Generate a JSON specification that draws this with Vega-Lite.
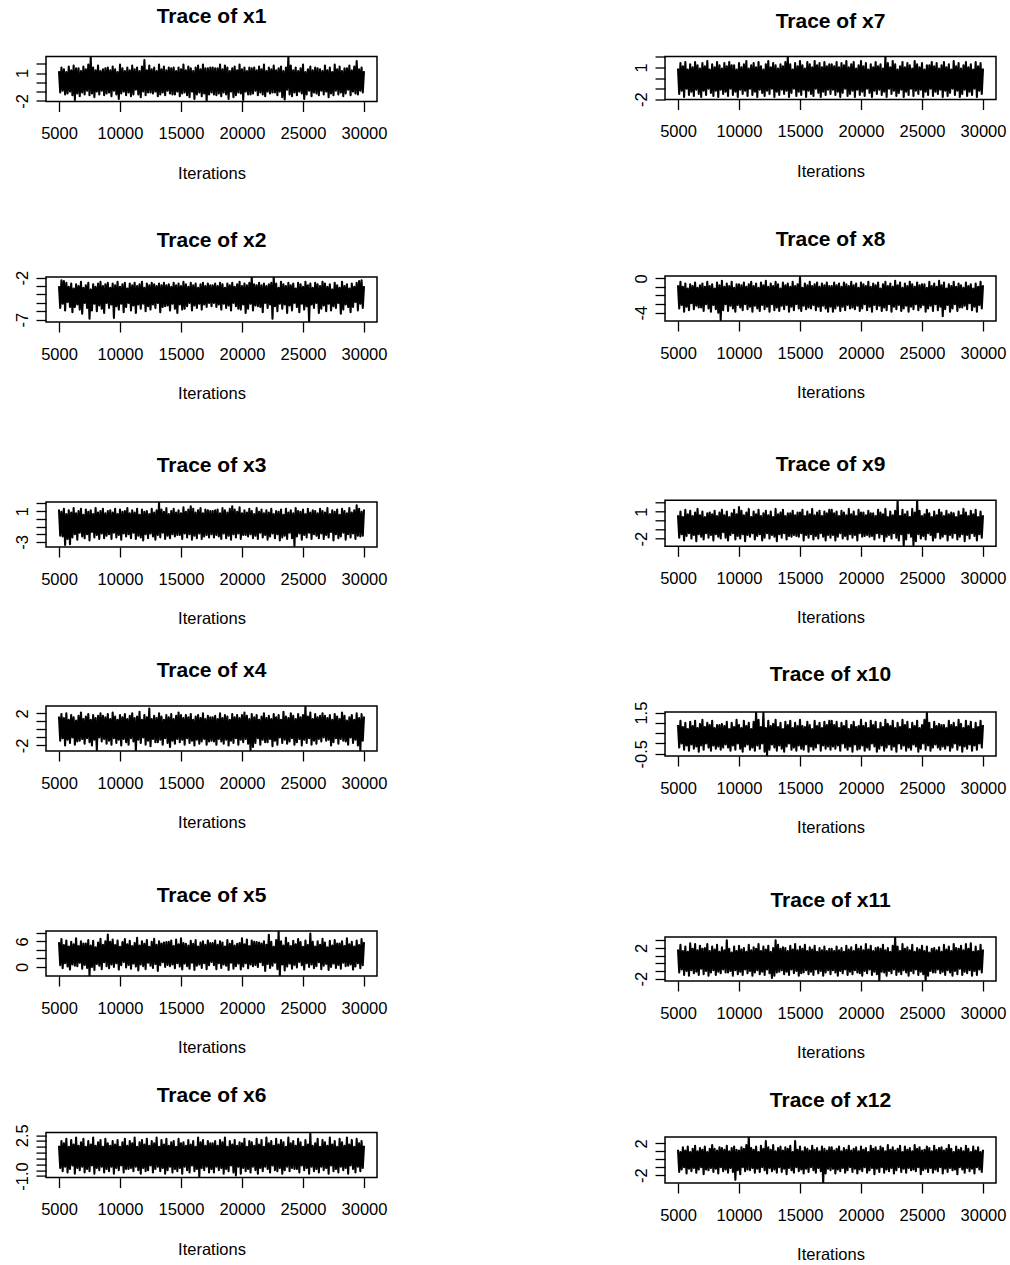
{
  "$schema": "https://vega.github.io/schema/vega-lite/v6.json",
  "background": "white",
  "padding": {"left": 13, "top": 4.5, "right": 5, "bottom": 5},
  "data": {"values": [
{"iter":5000,"x1":1.2,"x2":-3.0,"x3":1.2,"x4":1.6,"x5":5.8,"x6":1.6,"x7":0.9,"x8":-0.8,"x9":0.6,"x10":0.9,"x11":1.8,"x12":1.2},
{"iter":5100,"x1":-1.1,"x2":-5.6,"x3":-2.2,"x4":-1.4,"x5":0.4,"x6":-0.3,"x7":-1.5,"x8":-3.5,"x9":-1.9,"x10":-0.2,"x11":-1.2,"x12":-1.6},
{"iter":5200,"x1":1.6,"x2":-2.3,"x3":0.9,"x4":1.9,"x5":6.5,"x6":2.0,"x7":1.4,"x8":-0.4,"x9":1.0,"x10":1.1,"x11":2.4,"x12":0.9},
{"iter":5300,"x1":-0.9,"x2":-5.1,"x3":-2.3,"x4":-1.1,"x5":-0.3,"x6":-0.6,"x7":-1.2,"x8":-3.1,"x9":-1.5,"x10":0.0,"x11":-0.8,"x12":-1.3},
{"iter":5400,"x1":1.4,"x2":-2.4,"x3":1.3,"x4":1.4,"x5":5.1,"x6":1.8,"x7":1.1,"x8":-1.0,"x9":0.4,"x10":0.8,"x11":1.6,"x12":1.5},
{"iter":5500,"x1":-1.3,"x2":-5.9,"x3":-3.4,"x4":-2.0,"x5":0.9,"x6":-0.2,"x7":-1.8,"x8":-3.9,"x9":-2.2,"x10":-0.3,"x11":-1.5,"x12":-1.0},
{"iter":5600,"x1":1.1,"x2":-2.6,"x3":0.6,"x4":2.0,"x5":6.2,"x6":2.2,"x7":1.5,"x8":-0.6,"x9":1.2,"x10":1.0,"x11":2.2,"x12":1.1},
{"iter":5700,"x1":-1.2,"x2":-4.9,"x3":-2.6,"x4":-1.3,"x5":0.1,"x6":-0.7,"x7":-1.0,"x8":-3.3,"x9":-1.7,"x10":-0.1,"x11":-1.0,"x12":-1.8},
{"iter":5800,"x1":1.7,"x2":-3.1,"x3":1.1,"x4":1.2,"x5":4.8,"x6":1.5,"x7":0.8,"x8":-1.2,"x9":0.7,"x10":0.7,"x11":1.5,"x12":1.6},
{"iter":5900,"x1":-1.0,"x2":-5.5,"x3":-3.3,"x4":-1.7,"x5":-0.6,"x6":-0.4,"x7":-1.6,"x8":-3.7,"x9":-1.4,"x10":-0.35,"x11":-1.6,"x12":-1.2},
{"iter":6000,"x1":1.3,"x2":-2.7,"x3":0.8,"x4":1.8,"x5":5.9,"x6":2.1,"x7":1.3,"x8":-0.7,"x9":1.1,"x10":1.05,"x11":2.6,"x12":0.9},
{"iter":6100,"x1":-1.4,"x2":-6.1,"x3":-2.4,"x4":-1.0,"x5":0.6,"x6":-0.1,"x7":-1.3,"x8":-2.9,"x9":-2.0,"x10":-0.05,"x11":-0.9,"x12":-1.5},
{"iter":6200,"x1":1.8,"x2":-3.3,"x3":1.4,"x4":1.5,"x5":5.3,"x6":1.7,"x7":1.0,"x8":-0.9,"x9":0.5,"x10":0.85,"x11":1.9,"x12":1.3},
{"iter":6300,"x1":-1.9,"x2":-5.5,"x3":-2.0,"x4":-1.9,"x5":0.3,"x6":-0.8,"x7":-1.7,"x8":-3.6,"x9":-1.6,"x10":-0.25,"x11":-1.3,"x12":-1.1},
{"iter":6400,"x1":1.5,"x2":-2.8,"x3":0.7,"x4":1.1,"x5":6.7,"x6":2.3,"x7":1.5,"x8":-0.5,"x9":0.9,"x10":1.1,"x11":2.5,"x12":1.7},
{"iter":6500,"x1":-1.2,"x2":-5.2,"x3":-2.7,"x4":-1.5,"x5":0.2,"x6":-0.3,"x7":-1.1,"x8":-3.2,"x9":-2.3,"x10":-0.15,"x11":-1.1,"x12":-1.7},
{"iter":6600,"x1":1.5,"x2":-3.0,"x3":1.0,"x4":1.7,"x5":4.9,"x6":1.6,"x7":1.2,"x8":-1.1,"x9":1.3,"x10":0.75,"x11":1.7,"x12":1.0},
{"iter":6700,"x1":-1.5,"x2":-5.8,"x3":-1.8,"x4":-1.4,"x5":1.0,"x6":-0.5,"x7":-1.5,"x8":-3.4,"x9":-1.5,"x10":-0.4,"x11":-1.5,"x12":-1.3},
{"iter":6800,"x1":1.2,"x2":-2.5,"x3":1.3,"x4":2.1,"x5":6.0,"x6":1.9,"x7":0.9,"x8":-0.8,"x9":0.6,"x10":0.95,"x11":2.3,"x12":1.4},
{"iter":6900,"x1":-1.1,"x2":-6.3,"x3":-2.3,"x4":-1.2,"x5":-0.4,"x6":-0.2,"x7":-1.8,"x8":-3.4,"x9":-1.8,"x10":-0.1,"x11":-0.7,"x12":-1.0},
{"iter":7000,"x1":1.7,"x2":-3.2,"x3":0.5,"x4":1.3,"x5":5.5,"x6":2.2,"x7":1.4,"x8":-0.6,"x9":1.0,"x10":1.15,"x11":1.9,"x12":1.2},
{"iter":7100,"x1":-1.3,"x2":-5.0,"x3":-2.5,"x4":-1.8,"x5":0.5,"x6":-0.7,"x7":-1.2,"x8":-3.8,"x9":-2.1,"x10":-0.3,"x11":-1.4,"x12":-1.9},
{"iter":7200,"x1":1.4,"x2":-2.9,"x3":1.2,"x4":1.6,"x5":5.5,"x6":1.5,"x7":1.1,"x8":-1.0,"x9":0.4,"x10":0.8,"x11":2.0,"x12":1.6},
{"iter":7300,"x1":-0.9,"x2":-5.6,"x3":-2.0,"x4":-1.1,"x5":-0.2,"x6":-0.4,"x7":-1.6,"x8":-3.0,"x9":-1.4,"x10":0.0,"x11":-1.0,"x12":-1.3},
{"iter":7400,"x1":1.9,"x2":-2.6,"x3":0.9,"x4":1.9,"x5":6.3,"x6":2.0,"x7":1.6,"x8":-0.4,"x9":0.8,"x10":1.0,"x11":2.5,"x12":0.9},
{"iter":7500,"x1":-1.4,"x2":-6.9,"x3":-2.8,"x4":-1.6,"x5":-2.0,"x6":-0.6,"x7":-1.0,"x8":-3.5,"x9":-1.9,"x10":-0.2,"x11":-1.6,"x12":-1.4},
{"iter":7600,"x1":2.7,"x2":-3.4,"x3":1.1,"x4":1.2,"x5":5.0,"x6":1.7,"x7":0.8,"x8":-0.9,"x9":0.9,"x10":0.9,"x11":1.6,"x12":1.3},
{"iter":7700,"x1":-1.2,"x2":-5.9,"x3":-1.7,"x4":-2.0,"x5":0.0,"x6":-0.1,"x7":-1.4,"x8":-3.9,"x9":-1.6,"x10":-0.35,"x11":-1.2,"x12":-1.1},
{"iter":7800,"x1":1.6,"x2":-2.8,"x3":0.6,"x4":1.8,"x5":6.1,"x6":2.3,"x7":1.3,"x8":-0.7,"x9":0.7,"x10":1.1,"x11":2.2,"x12":1.8},
{"iter":7900,"x1":-1.6,"x2":-5.1,"x3":-2.4,"x4":-1.3,"x5":-0.7,"x6":-0.8,"x7":-1.7,"x8":-3.1,"x9":-2.2,"x10":-0.1,"x11":-0.9,"x12":-1.6},
{"iter":8000,"x1":1.3,"x2":-3.1,"x3":1.4,"x4":1.4,"x5":4.6,"x6":1.6,"x7":1.0,"x8":-1.2,"x9":1.1,"x10":0.75,"x11":1.8,"x12":1.3},
{"iter":8100,"x1":-1.0,"x2":-6.0,"x3":-2.1,"x4":-2.6,"x5":0.7,"x6":-0.3,"x7":-1.2,"x8":-3.6,"x9":-1.5,"x10":-0.25,"x11":-1.5,"x12":-1.2},
{"iter":8200,"x1":1.8,"x2":-2.7,"x3":0.8,"x4":1.7,"x5":5.7,"x6":1.9,"x7":1.5,"x8":-0.5,"x9":0.5,"x10":0.9,"x11":2.4,"x12":1.1},
{"iter":8300,"x1":-1.3,"x2":-5.3,"x3":-2.6,"x4":-1.0,"x5":0.3,"x6":-0.5,"x7":-1.8,"x8":-4.0,"x9":-1.8,"x10":-0.15,"x11":-1.1,"x12":-1.8},
{"iter":8400,"x1":1.2,"x2":-2.5,"x3":1.0,"x4":2.0,"x5":6.6,"x6":2.1,"x7":1.2,"x8":-0.8,"x9":0.9,"x10":0.9,"x11":1.5,"x12":1.5},
{"iter":8500,"x1":-0.9,"x2":-5.7,"x3":-1.9,"x4":-1.5,"x5":-0.5,"x6":-0.2,"x7":-1.1,"x8":-4.85,"x9":-2.0,"x10":-0.3,"x11":-1.3,"x12":-1.0},
{"iter":8600,"x1":1.4,"x2":-3.0,"x3":1.3,"x4":1.7,"x5":5.2,"x6":1.5,"x7":0.9,"x8":-0.3,"x9":1.2,"x10":0.95,"x11":2.1,"x12":1.4},
{"iter":8700,"x1":-1.4,"x2":-6.2,"x3":-2.5,"x4":-1.2,"x5":1.1,"x6":-0.7,"x7":-1.5,"x8":-3.7,"x9":-1.3,"x10":-0.2,"x11":-0.8,"x12":-1.5},
{"iter":8800,"x1":1.5,"x2":-2.8,"x3":0.7,"x4":1.5,"x5":6.0,"x6":2.2,"x7":1.4,"x8":-1.0,"x9":0.6,"x10":0.85,"x11":1.7,"x12":1.2},
{"iter":8900,"x1":-1.2,"x2":-5.0,"x3":-2.2,"x4":-1.8,"x5":0.2,"x6":-0.4,"x7":-1.3,"x8":-3.0,"x9":-1.9,"x10":-0.05,"x11":-1.2,"x12":-1.3},
{"iter":9000,"x1":1.6,"x2":-2.6,"x3":1.0,"x4":1.9,"x5":7.6,"x6":1.8,"x7":1.1,"x8":-0.6,"x9":1.0,"x10":1.05,"x11":3.0,"x12":1.7},
{"iter":9100,"x1":-1.1,"x2":-5.6,"x3":-2.0,"x4":-1.4,"x5":-0.3,"x6":-0.6,"x7":-1.7,"x8":-3.8,"x9":-2.2,"x10":-0.2,"x11":-1.2,"x12":-1.7},
{"iter":9200,"x1":1.3,"x2":-3.2,"x3":1.1,"x4":1.3,"x5":5.9,"x6":1.6,"x7":1.5,"x8":-0.9,"x9":0.4,"x10":0.7,"x11":1.9,"x12":1.0},
{"iter":9300,"x1":-1.5,"x2":-5.2,"x3":-2.6,"x4":-1.9,"x5":0.6,"x6":-0.2,"x7":-1.0,"x8":-3.2,"x9":-1.6,"x10":-0.35,"x11":-1.0,"x12":-1.1},
{"iter":9400,"x1":1.7,"x2":-2.7,"x3":0.8,"x4":2.1,"x5":6.4,"x6":2.0,"x7":1.2,"x8":-0.4,"x9":0.8,"x10":1.0,"x11":1.4,"x12":1.4},
{"iter":9500,"x1":-0.9,"x2":-6.8,"x3":-1.8,"x4":-1.1,"x5":0.0,"x6":-0.8,"x7":-1.6,"x8":-3.5,"x9":-1.4,"x10":-0.1,"x11":-1.6,"x12":-1.6},
{"iter":9600,"x1":1.4,"x2":-2.9,"x3":1.3,"x4":1.6,"x5":5.1,"x6":1.7,"x7":1.2,"x8":-1.1,"x9":1.2,"x10":0.8,"x11":2.2,"x12":1.6},
{"iter":9700,"x1":-1.3,"x2":-5.4,"x3":-2.4,"x4":-1.7,"x5":0.9,"x6":-0.3,"x7":-1.3,"x8":-3.9,"x9":-2.1,"x10":-0.3,"x11":-0.9,"x12":-2.6},
{"iter":9800,"x1":1.1,"x2":-2.5,"x3":0.6,"x4":1.2,"x5":6.2,"x6":2.1,"x7":0.8,"x8":-0.7,"x9":0.7,"x10":1.15,"x11":1.6,"x12":1.2},
{"iter":9900,"x1":-1.8,"x2":-5.8,"x3":-2.1,"x4":-1.3,"x5":-0.6,"x6":-0.5,"x7":-1.8,"x8":-3.1,"x9":-1.7,"x10":0.0,"x11":-1.4,"x12":-1.4},
{"iter":10000,"x1":1.9,"x2":-3.1,"x3":1.2,"x4":1.8,"x5":4.7,"x6":1.5,"x7":1.4,"x8":-0.7,"x9":1.5,"x10":0.9,"x11":2.3,"x12":1.1},
{"iter":10100,"x1":-1.2,"x2":-5.1,"x3":-2.7,"x4":-2.0,"x5":0.4,"x6":-0.1,"x7":-1.1,"x8":-3.4,"x9":-2.0,"x10":-0.25,"x11":-1.1,"x12":-1.9},
{"iter":10200,"x1":1.5,"x2":-2.8,"x3":0.9,"x4":1.5,"x5":5.8,"x6":1.9,"x7":1.0,"x8":-0.8,"x9":1.1,"x10":0.75,"x11":1.8,"x12":1.5},
{"iter":10300,"x1":-1.0,"x2":-6.1,"x3":-1.9,"x4":-1.2,"x5":1.2,"x6":-0.7,"x7":-1.5,"x8":-3.7,"x9":-1.5,"x10":-0.4,"x11":-1.5,"x12":-1.0},
{"iter":10400,"x1":1.2,"x2":-2.6,"x3":1.0,"x4":1.9,"x5":6.5,"x6":2.2,"x7":1.3,"x8":-0.5,"x9":0.6,"x10":1.1,"x11":2.0,"x12":1.3},
{"iter":10500,"x1":-1.4,"x2":-5.5,"x3":-2.3,"x4":-1.6,"x5":-0.1,"x6":-0.4,"x7":-1.2,"x8":-3.0,"x9":-2.3,"x10":-0.15,"x11":-0.8,"x12":-1.5},
{"iter":10600,"x1":1.6,"x2":-3.3,"x3":1.4,"x4":1.3,"x5":5.3,"x6":1.6,"x7":1.6,"x8":-1.0,"x9":0.9,"x10":0.85,"x11":1.5,"x12":1.8},
{"iter":10700,"x1":-1.1,"x2":-5.0,"x3":-2.0,"x4":-1.9,"x5":0.5,"x6":-0.4,"x7":-1.7,"x8":-3.6,"x9":-1.6,"x10":-0.05,"x11":-1.3,"x12":-1.3},
{"iter":10800,"x1":1.3,"x2":-2.7,"x3":0.7,"x4":1.7,"x5":6.1,"x6":2.0,"x7":0.9,"x8":-0.7,"x9":1.3,"x10":1.0,"x11":2.4,"x12":2.75},
{"iter":10900,"x1":-1.5,"x2":-5.9,"x3":-2.5,"x4":-1.1,"x5":-0.4,"x6":-0.3,"x7":-1.0,"x8":-3.3,"x9":-1.8,"x10":-0.3,"x11":-1.0,"x12":-1.4},
{"iter":11000,"x1":1.8,"x2":-2.9,"x3":1.1,"x4":2.0,"x5":4.9,"x6":1.8,"x7":1.2,"x8":-0.4,"x9":0.4,"x10":0.7,"x11":1.7,"x12":1.4},
{"iter":11100,"x1":-1.3,"x2":-5.3,"x3":-1.8,"x4":-1.5,"x5":0.8,"x6":-0.6,"x7":-1.6,"x8":-3.9,"x9":-1.4,"x10":-0.2,"x11":-1.6,"x12":-1.1},
{"iter":11200,"x1":1.4,"x2":-2.6,"x3":0.8,"x4":1.4,"x5":5.6,"x6":2.3,"x7":1.4,"x8":-0.9,"x9":1.0,"x10":1.05,"x11":2.1,"x12":1.2},
{"iter":11300,"x1":-0.8,"x2":-6.2,"x3":-2.6,"x4":-2.6,"x5":0.1,"x6":-0.2,"x7":-1.3,"x8":-3.2,"x9":-2.1,"x10":-0.35,"x11":-1.2,"x12":-1.7},
{"iter":11400,"x1":1.6,"x2":-3.0,"x3":1.3,"x4":1.6,"x5":6.8,"x6":1.5,"x7":1.0,"x8":-0.6,"x9":0.7,"x10":1.5,"x11":1.9,"x12":1.6},
{"iter":11500,"x1":-1.3,"x2":-5.2,"x3":-2.2,"x4":-1.3,"x5":-0.8,"x6":-0.5,"x7":-1.8,"x8":-3.5,"x9":-1.7,"x10":-0.1,"x11":-0.9,"x12":-1.2},
{"iter":11600,"x1":1.2,"x2":-2.8,"x3":0.5,"x4":2.2,"x5":5.0,"x6":1.9,"x7":1.5,"x8":-1.1,"x9":1.2,"x10":1.15,"x11":2.5,"x12":0.9},
{"iter":11700,"x1":-1.6,"x2":-5.7,"x3":-2.4,"x4":-1.7,"x5":0.6,"x6":-0.8,"x7":-1.1,"x8":-3.8,"x9":-1.5,"x10":-0.25,"x11":-1.4,"x12":-1.6},
{"iter":11800,"x1":1.7,"x2":-2.5,"x3":1.2,"x4":1.2,"x5":6.0,"x6":2.1,"x7":1.1,"x8":-0.5,"x9":0.5,"x10":0.8,"x11":1.6,"x12":1.7},
{"iter":11900,"x1":-1.0,"x2":-5.1,"x3":-2.8,"x4":-1.0,"x5":0.2,"x6":-0.3,"x7":-1.4,"x8":-3.1,"x9":-2.2,"x10":0.0,"x11":-1.1,"x12":-1.0},
{"iter":12000,"x1":2.4,"x2":-3.2,"x3":0.9,"x4":1.8,"x5":5.4,"x6":1.7,"x7":0.8,"x8":-0.8,"x9":0.8,"x10":1.5,"x11":2.2,"x12":1.3},
{"iter":12100,"x1":-1.4,"x2":-6.0,"x3":-2.0,"x4":-1.9,"x5":-0.5,"x6":-0.6,"x7":-1.7,"x8":-3.6,"x9":-1.9,"x10":-0.4,"x11":-1.5,"x12":-1.4},
{"iter":12200,"x1":1.3,"x2":-2.7,"x3":1.0,"x4":1.5,"x5":6.3,"x6":2.2,"x7":1.3,"x8":-0.3,"x9":1.1,"x10":0.75,"x11":1.8,"x12":2.3},
{"iter":12300,"x1":-1.1,"x2":-5.4,"x3":-2.5,"x4":-1.4,"x5":1.0,"x6":-0.5,"x7":-1.2,"x8":-3.3,"x9":-1.4,"x10":-0.58,"x11":-0.8,"x12":-1.8},
{"iter":12400,"x1":1.8,"x2":-2.9,"x3":0.6,"x4":2.6,"x5":4.7,"x6":1.6,"x7":1.6,"x8":-1.0,"x9":0.6,"x10":1.1,"x11":2.3,"x12":1.5},
{"iter":12500,"x1":-1.1,"x2":-5.8,"x3":-1.9,"x4":-2.1,"x5":0.3,"x6":-0.1,"x7":-1.5,"x8":-3.9,"x9":-2.0,"x10":-0.3,"x11":-1.3,"x12":-1.1},
{"iter":12600,"x1":1.4,"x2":-2.6,"x3":1.3,"x4":1.3,"x5":5.9,"x6":2.0,"x7":1.0,"x8":-0.6,"x9":1.0,"x10":0.85,"x11":1.5,"x12":1.2},
{"iter":12700,"x1":-1.2,"x2":-5.2,"x3":-2.3,"x4":-1.2,"x5":-0.2,"x6":-0.7,"x7":-1.0,"x8":-3.0,"x9":-1.6,"x10":-0.05,"x11":-1.9,"x12":-1.5},
{"iter":12800,"x1":1.6,"x2":-2.8,"x3":0.8,"x4":1.7,"x5":6.6,"x6":1.8,"x7":1.4,"x8":-0.9,"x9":0.4,"x10":0.95,"x11":2.0,"x12":1.8},
{"iter":12900,"x1":-1.0,"x2":-5.6,"x3":-2.7,"x4":-1.6,"x5":0.7,"x6":-0.4,"x7":-1.8,"x8":-3.7,"x9":-1.8,"x10":-0.2,"x11":-1.6,"x12":-1.3},
{"iter":13000,"x1":1.2,"x2":-3.0,"x3":1.1,"x4":1.4,"x5":5.2,"x6":2.3,"x7":1.2,"x8":-0.4,"x9":1.3,"x10":1.15,"x11":3.0,"x12":1.0},
{"iter":13100,"x1":-1.5,"x2":-5.0,"x3":-2.1,"x4":-1.6,"x5":-0.9,"x6":-0.2,"x7":-1.3,"x8":-3.4,"x9":-2.3,"x10":-0.35,"x11":-1.2,"x12":-1.7},
{"iter":13200,"x1":1.9,"x2":-2.7,"x3":2.1,"x4":2.0,"x5":6.0,"x6":1.5,"x7":0.9,"x8":-0.7,"x9":0.7,"x10":0.8,"x11":2.4,"x12":1.4},
{"iter":13300,"x1":-1.3,"x2":-6.1,"x3":-2.4,"x4":-1.3,"x5":0.4,"x6":-0.6,"x7":-1.6,"x8":-3.8,"x9":-1.5,"x10":-0.1,"x11":-1.1,"x12":-1.0},
{"iter":13400,"x1":1.4,"x2":-2.9,"x3":1.2,"x4":1.6,"x5":5.5,"x6":2.1,"x7":1.3,"x8":-1.2,"x9":0.9,"x10":1.0,"x11":1.9,"x12":1.6},
{"iter":13500,"x1":-1.1,"x2":-5.5,"x3":-1.8,"x4":-1.9,"x5":1.1,"x6":-0.3,"x7":-1.1,"x8":-3.2,"x9":-1.9,"x10":-0.25,"x11":-0.9,"x12":-1.6},
{"iter":13600,"x1":1.7,"x2":-2.6,"x3":0.9,"x4":1.2,"x5":5.7,"x6":1.7,"x7":1.1,"x8":-0.5,"x9":1.2,"x10":0.7,"x11":2.1,"x12":1.1},
{"iter":13700,"x1":-1.4,"x2":-5.4,"x3":-2.6,"x4":-1.1,"x5":0.0,"x6":-0.8,"x7":-1.5,"x8":-3.6,"x9":-1.4,"x10":-0.4,"x11":-1.4,"x12":-1.2},
{"iter":13800,"x1":1.3,"x2":-2.9,"x3":1.4,"x4":1.8,"x5":5.8,"x6":2.2,"x7":1.5,"x8":-0.8,"x9":0.5,"x10":1.05,"x11":2.0,"x12":1.5},
{"iter":13900,"x1":-0.9,"x2":-5.3,"x3":-2.2,"x4":-1.7,"x5":0.5,"x6":-0.5,"x7":-1.2,"x8":-3.1,"x9":-2.1,"x10":-0.15,"x11":-1.1,"x12":-1.9},
{"iter":14000,"x1":1.6,"x2":-2.8,"x3":0.6,"x4":1.5,"x5":5.9,"x6":1.6,"x7":1.95,"x8":-0.6,"x9":0.8,"x10":0.9,"x11":1.6,"x12":1.3},
{"iter":14100,"x1":-1.2,"x2":-5.9,"x3":-2.5,"x4":-2.2,"x5":0.2,"x6":-0.2,"x7":-1.8,"x8":-3.9,"x9":-1.7,"x10":0.0,"x11":-1.5,"x12":-1.1},
{"iter":14200,"x1":1.5,"x2":-3.1,"x3":1.0,"x4":1.9,"x5":6.2,"x6":1.9,"x7":1.3,"x8":-1.0,"x9":0.8,"x10":1.1,"x11":2.3,"x12":1.7},
{"iter":14300,"x1":-1.3,"x2":-5.1,"x3":-2.0,"x4":-1.4,"x5":0.6,"x6":-0.7,"x7":-1.4,"x8":-3.3,"x9":-1.8,"x10":-0.3,"x11":-0.8,"x12":-1.4},
{"iter":14400,"x1":1.6,"x2":-2.6,"x3":1.3,"x4":1.3,"x5":4.9,"x6":2.0,"x7":0.8,"x8":-0.4,"x9":1.1,"x10":0.75,"x11":1.8,"x12":0.9},
{"iter":14500,"x1":-1.3,"x2":-5.7,"x3":-2.3,"x4":-1.8,"x5":-0.3,"x6":-0.4,"x7":-1.0,"x8":-3.7,"x9":-1.6,"x10":-0.2,"x11":-1.3,"x12":-1.7},
{"iter":14600,"x1":1.2,"x2":-2.9,"x3":0.8,"x4":1.7,"x5":6.4,"x6":1.5,"x7":1.4,"x8":-0.9,"x9":0.6,"x10":1.0,"x11":2.5,"x12":2.3},
{"iter":14700,"x1":-1.0,"x2":-6.2,"x3":-2.1,"x4":-1.2,"x5":0.9,"x6":-0.6,"x7":-1.7,"x8":-3.0,"x9":-1.7,"x10":-0.35,"x11":-1.0,"x12":-1.0},
{"iter":14800,"x1":1.6,"x2":-2.7,"x3":1.1,"x4":2.1,"x5":5.3,"x6":2.2,"x7":1.1,"x8":-0.7,"x9":0.9,"x10":0.85,"x11":1.7,"x12":1.2},
{"iter":14900,"x1":-1.5,"x2":-5.2,"x3":-2.1,"x4":-1.6,"x5":0.1,"x6":-0.3,"x7":-1.3,"x8":-3.5,"x9":-1.8,"x10":-0.1,"x11":-1.6,"x12":-1.5},
{"iter":15000,"x1":1.4,"x2":-3.0,"x3":0.7,"x4":1.8,"x5":6.7,"x6":1.8,"x7":1.6,"x8":0.15,"x9":0.9,"x10":1.15,"x11":2.2,"x12":1.6},
{"iter":15100,"x1":-1.2,"x2":-5.8,"x3":-2.6,"x4":-1.3,"x5":-0.6,"x6":-0.8,"x7":-1.6,"x8":-3.8,"x9":-1.4,"x10":-0.25,"x11":-1.3,"x12":-1.3},
{"iter":15200,"x1":1.9,"x2":-2.5,"x3":1.5,"x4":1.4,"x5":5.6,"x6":1.9,"x7":1.2,"x8":-1.1,"x9":1.2,"x10":0.85,"x11":1.9,"x12":1.0},
{"iter":15300,"x1":-1.1,"x2":-5.7,"x3":-1.9,"x4":-1.9,"x5":0.8,"x6":-0.2,"x7":-1.1,"x8":-3.2,"x9":-2.2,"x10":-0.3,"x11":-1.2,"x12":-1.8},
{"iter":15400,"x1":1.3,"x2":-2.8,"x3":0.9,"x4":1.8,"x5":5.4,"x6":1.6,"x7":0.9,"x8":-0.6,"x9":0.5,"x10":0.8,"x11":2.4,"x12":1.5},
{"iter":15500,"x1":-1.4,"x2":-5.4,"x3":-2.4,"x4":-1.1,"x5":0.2,"x6":-0.5,"x7":-1.8,"x8":-3.6,"x9":-1.6,"x10":-0.05,"x11":-0.9,"x12":-1.2},
{"iter":15600,"x1":1.7,"x2":-3.1,"x3":1.2,"x4":1.5,"x5":5.0,"x6":2.1,"x7":1.5,"x8":-0.8,"x9":1.0,"x10":1.05,"x11":1.6,"x12":1.3},
{"iter":15700,"x1":-1.6,"x2":-5.0,"x3":-2.0,"x4":-1.7,"x5":-0.4,"x6":-0.7,"x7":-1.2,"x8":-3.4,"x9":-1.9,"x10":-0.4,"x11":-1.4,"x12":-1.6},
{"iter":15800,"x1":1.5,"x2":-2.6,"x3":1.6,"x4":1.9,"x5":6.1,"x6":1.7,"x7":1.3,"x8":-0.4,"x9":0.7,"x10":0.9,"x11":2.1,"x12":1.1},
{"iter":15900,"x1":-1.0,"x2":-5.9,"x3":-2.7,"x4":-1.4,"x5":1.0,"x6":-0.1,"x7":-1.5,"x8":-3.5,"x9":-1.5,"x10":-0.15,"x11":-1.1,"x12":-1.0},
{"iter":16000,"x1":1.2,"x2":-2.9,"x3":1.3,"x4":1.2,"x5":5.4,"x6":2.0,"x7":1.0,"x8":-0.9,"x9":1.3,"x10":0.7,"x11":1.8,"x12":1.7},
{"iter":16100,"x1":-1.8,"x2":-5.3,"x3":-2.2,"x4":-2.0,"x5":-0.7,"x6":-0.6,"x7":-1.7,"x8":-3.1,"x9":-2.1,"x10":-0.3,"x11":-1.5,"x12":-1.4},
{"iter":16200,"x1":1.6,"x2":-2.7,"x3":0.8,"x4":1.6,"x5":6.3,"x6":1.5,"x7":1.6,"x8":-0.7,"x9":0.6,"x10":1.1,"x11":2.3,"x12":1.2},
{"iter":16300,"x1":-1.3,"x2":-5.6,"x3":-2.5,"x4":-1.3,"x5":0.3,"x6":-0.4,"x7":-1.0,"x8":-3.7,"x9":-1.7,"x10":-0.2,"x11":-0.8,"x12":-1.7},
{"iter":16400,"x1":1.8,"x2":-3.2,"x3":1.1,"x4":1.8,"x5":4.8,"x6":2.3,"x7":1.2,"x8":-0.5,"x9":0.9,"x10":0.85,"x11":1.5,"x12":1.4},
{"iter":16500,"x1":-1.1,"x2":-5.1,"x3":-1.9,"x4":-1.8,"x5":0.6,"x6":-1.05,"x7":-1.4,"x8":-3.3,"x9":-2.0,"x10":0.0,"x11":-1.3,"x12":-1.1},
{"iter":16600,"x1":1.4,"x2":-2.8,"x3":1.4,"x4":1.4,"x5":5.7,"x6":1.9,"x7":1.4,"x8":-1.0,"x9":1.1,"x10":1.0,"x11":2.0,"x12":1.0},
{"iter":16700,"x1":-1.5,"x2":-5.8,"x3":-2.6,"x4":-1.5,"x5":-0.2,"x6":-0.3,"x7":-1.8,"x8":-3.8,"x9":-1.4,"x10":-0.35,"x11":-1.0,"x12":-1.5},
{"iter":16800,"x1":1.9,"x2":-2.6,"x3":0.7,"x4":2.0,"x5":6.0,"x6":2.1,"x7":1.0,"x8":-0.6,"x9":0.5,"x10":0.75,"x11":1.7,"x12":1.6},
{"iter":16900,"x1":-1.2,"x2":-5.2,"x3":-2.3,"x4":-1.2,"x5":0.9,"x6":-0.5,"x7":-1.3,"x8":-3.2,"x9":-1.8,"x10":-0.1,"x11":-1.6,"x12":-2.95},
{"iter":17000,"x1":1.5,"x2":-3.0,"x3":1.2,"x4":1.3,"x5":5.2,"x6":1.6,"x7":1.5,"x8":-0.8,"x9":1.0,"x10":1.05,"x11":2.2,"x12":1.3},
{"iter":17100,"x1":-2.0,"x2":-5.5,"x3":-2.1,"x4":-1.9,"x5":-0.5,"x6":-0.2,"x7":-1.6,"x8":-3.5,"x9":-2.2,"x10":-0.25,"x11":-1.2,"x12":-1.8},
{"iter":17200,"x1":1.5,"x2":-2.7,"x3":1.1,"x4":1.7,"x5":6.2,"x6":2.0,"x7":1.1,"x8":-0.5,"x9":0.8,"x10":0.9,"x11":1.6,"x12":1.1},
{"iter":17300,"x1":-1.3,"x2":-5.0,"x3":-2.4,"x4":-1.5,"x5":0.4,"x6":-0.7,"x7":-1.1,"x8":-3.9,"x9":-1.6,"x10":-0.15,"x11":-0.9,"x12":-1.2},
{"iter":17400,"x1":1.6,"x2":-2.9,"x3":1.0,"x4":1.5,"x5":5.6,"x6":1.8,"x7":1.3,"x8":-0.9,"x9":1.2,"x10":1.1,"x11":1.9,"x12":1.5},
{"iter":17500,"x1":-1.1,"x2":-5.4,"x3":-2.0,"x4":-1.4,"x5":1.2,"x6":-0.4,"x7":-1.5,"x8":-3.3,"x9":-1.9,"x10":-0.3,"x11":-1.4,"x12":-1.4},
{"iter":17600,"x1":1.6,"x2":-2.9,"x3":1.0,"x4":1.5,"x5":5.6,"x6":1.8,"x7":1.3,"x8":-0.9,"x9":1.2,"x10":1.1,"x11":1.9,"x12":1.5},
{"iter":17700,"x1":-1.3,"x2":-5.0,"x3":-2.4,"x4":-1.5,"x5":0.4,"x6":-0.7,"x7":-1.1,"x8":-3.9,"x9":-1.6,"x10":-0.15,"x11":-0.9,"x12":-1.2},
{"iter":17800,"x1":1.5,"x2":-2.7,"x3":1.1,"x4":1.7,"x5":6.2,"x6":2.0,"x7":1.1,"x8":-0.5,"x9":0.8,"x10":0.9,"x11":1.6,"x12":1.1},
{"iter":17900,"x1":-1.4,"x2":-5.5,"x3":-2.1,"x4":-1.9,"x5":-0.5,"x6":-0.2,"x7":-1.6,"x8":-3.5,"x9":-2.2,"x10":-0.25,"x11":-1.2,"x12":-1.8},
{"iter":18000,"x1":1.5,"x2":-3.0,"x3":1.2,"x4":1.3,"x5":5.2,"x6":1.6,"x7":1.5,"x8":-0.8,"x9":1.0,"x10":1.05,"x11":2.2,"x12":1.3},
{"iter":18100,"x1":-1.2,"x2":-5.2,"x3":-2.3,"x4":-1.2,"x5":0.9,"x6":-0.5,"x7":-1.3,"x8":-3.2,"x9":-1.8,"x10":-0.1,"x11":-1.6,"x12":-1.3},
{"iter":18200,"x1":1.9,"x2":-2.6,"x3":0.7,"x4":2.0,"x5":6.0,"x6":2.1,"x7":1.0,"x8":-0.6,"x9":0.5,"x10":0.75,"x11":1.7,"x12":1.6},
{"iter":18300,"x1":-1.5,"x2":-5.8,"x3":-2.6,"x4":-1.5,"x5":-0.2,"x6":-0.3,"x7":-1.8,"x8":-3.8,"x9":-1.4,"x10":-0.35,"x11":-1.0,"x12":-1.5},
{"iter":18400,"x1":1.4,"x2":-2.8,"x3":1.4,"x4":1.4,"x5":5.7,"x6":1.9,"x7":1.4,"x8":-1.0,"x9":1.1,"x10":1.0,"x11":2.0,"x12":1.0},
{"iter":18500,"x1":-1.1,"x2":-5.1,"x3":-1.9,"x4":-1.8,"x5":0.6,"x6":-0.8,"x7":-1.4,"x8":-3.3,"x9":-2.0,"x10":0.0,"x11":-1.3,"x12":-1.1},
{"iter":18600,"x1":1.8,"x2":-3.2,"x3":1.1,"x4":1.8,"x5":4.8,"x6":2.3,"x7":1.2,"x8":-0.5,"x9":0.9,"x10":0.85,"x11":1.5,"x12":1.4},
{"iter":18700,"x1":-1.3,"x2":-5.6,"x3":-2.5,"x4":-1.3,"x5":0.3,"x6":-0.4,"x7":-1.0,"x8":-3.7,"x9":-1.7,"x10":-0.2,"x11":-0.8,"x12":-1.7},
{"iter":18800,"x1":1.6,"x2":-2.7,"x3":0.8,"x4":1.6,"x5":6.3,"x6":1.5,"x7":1.6,"x8":-0.7,"x9":0.6,"x10":1.1,"x11":2.3,"x12":1.2},
{"iter":18900,"x1":-1.8,"x2":-5.3,"x3":-2.2,"x4":-2.0,"x5":-0.7,"x6":-0.6,"x7":-1.7,"x8":-3.1,"x9":-2.1,"x10":-0.3,"x11":-1.5,"x12":-1.4},
{"iter":19000,"x1":1.2,"x2":-2.9,"x3":1.3,"x4":1.2,"x5":5.4,"x6":2.0,"x7":1.0,"x8":-0.9,"x9":1.3,"x10":0.7,"x11":1.8,"x12":1.7},
{"iter":19100,"x1":-1.0,"x2":-5.9,"x3":-2.7,"x4":-1.4,"x5":1.0,"x6":-0.1,"x7":-1.5,"x8":-3.5,"x9":-1.5,"x10":-0.15,"x11":-1.1,"x12":-1.0},
{"iter":19200,"x1":1.5,"x2":-2.6,"x3":1.6,"x4":1.9,"x5":6.1,"x6":1.7,"x7":1.3,"x8":-0.4,"x9":0.7,"x10":0.9,"x11":2.1,"x12":1.1},
{"iter":19300,"x1":-1.6,"x2":-5.0,"x3":-2.0,"x4":-1.7,"x5":-0.4,"x6":-0.7,"x7":-1.2,"x8":-3.4,"x9":-1.9,"x10":-0.4,"x11":-1.4,"x12":-1.6},
{"iter":19400,"x1":1.7,"x2":-3.1,"x3":1.2,"x4":1.5,"x5":5.0,"x6":2.1,"x7":1.5,"x8":-0.8,"x9":1.0,"x10":1.05,"x11":1.6,"x12":1.3},
{"iter":19500,"x1":-1.4,"x2":-5.4,"x3":-2.4,"x4":-1.1,"x5":0.2,"x6":-0.95,"x7":-1.8,"x8":-3.6,"x9":-1.6,"x10":-0.05,"x11":-0.9,"x12":-1.2},
{"iter":19600,"x1":1.3,"x2":-2.8,"x3":0.9,"x4":1.8,"x5":5.4,"x6":1.6,"x7":0.9,"x8":-0.6,"x9":0.5,"x10":0.8,"x11":2.4,"x12":1.5},
{"iter":19700,"x1":-1.1,"x2":-5.7,"x3":-1.9,"x4":-1.9,"x5":0.8,"x6":-0.2,"x7":-1.1,"x8":-3.2,"x9":-2.2,"x10":-0.3,"x11":-1.2,"x12":-1.8},
{"iter":19800,"x1":1.9,"x2":-2.5,"x3":1.5,"x4":1.4,"x5":5.6,"x6":1.9,"x7":1.2,"x8":-1.1,"x9":1.2,"x10":0.85,"x11":1.9,"x12":1.0},
{"iter":19900,"x1":-1.2,"x2":-5.8,"x3":-2.6,"x4":-1.3,"x5":-0.6,"x6":-0.8,"x7":-1.6,"x8":-3.8,"x9":-1.4,"x10":-0.25,"x11":-1.3,"x12":-1.3},
{"iter":20000,"x1":1.4,"x2":-3.0,"x3":0.7,"x4":1.8,"x5":6.7,"x6":1.8,"x7":1.6,"x8":-0.5,"x9":0.9,"x10":1.15,"x11":2.2,"x12":1.6},
{"iter":20100,"x1":-1.9,"x2":-5.2,"x3":-2.1,"x4":-1.6,"x5":0.1,"x6":-0.3,"x7":-1.3,"x8":-3.5,"x9":-1.8,"x10":-0.1,"x11":-1.6,"x12":-1.5},
{"iter":20200,"x1":1.6,"x2":-2.7,"x3":1.1,"x4":2.1,"x5":5.3,"x6":2.2,"x7":1.1,"x8":-0.7,"x9":0.9,"x10":0.85,"x11":1.7,"x12":1.2},
{"iter":20300,"x1":-1.0,"x2":-6.2,"x3":-2.1,"x4":-1.2,"x5":0.9,"x6":-0.6,"x7":-1.7,"x8":-3.0,"x9":-1.7,"x10":-0.35,"x11":-1.0,"x12":-1.0},
{"iter":20400,"x1":1.2,"x2":-2.9,"x3":0.8,"x4":1.7,"x5":6.4,"x6":1.5,"x7":1.4,"x8":-0.9,"x9":0.6,"x10":1.0,"x11":2.5,"x12":1.4},
{"iter":20500,"x1":-1.3,"x2":-5.7,"x3":-2.3,"x4":-1.8,"x5":-0.3,"x6":-0.4,"x7":-1.0,"x8":-3.7,"x9":-1.6,"x10":-0.2,"x11":-1.3,"x12":-1.7},
{"iter":20600,"x1":1.6,"x2":-2.6,"x3":1.3,"x4":1.3,"x5":4.9,"x6":2.0,"x7":0.8,"x8":-0.4,"x9":1.1,"x10":0.75,"x11":1.8,"x12":0.9},
{"iter":20700,"x1":-1.3,"x2":-5.1,"x3":-2.0,"x4":-2.6,"x5":0.6,"x6":-0.7,"x7":-1.4,"x8":-3.3,"x9":-1.8,"x10":-0.3,"x11":-0.8,"x12":-1.4},
{"iter":20800,"x1":1.5,"x2":-1.95,"x3":1.0,"x4":1.9,"x5":6.2,"x6":1.9,"x7":1.3,"x8":-1.0,"x9":0.8,"x10":1.1,"x11":2.3,"x12":1.7},
{"iter":20900,"x1":-1.2,"x2":-5.9,"x3":-2.5,"x4":-2.2,"x5":0.2,"x6":-0.2,"x7":-1.8,"x8":-3.9,"x9":-1.7,"x10":0.0,"x11":-1.5,"x12":-1.1},
{"iter":21000,"x1":1.6,"x2":-2.8,"x3":0.6,"x4":1.5,"x5":5.9,"x6":1.6,"x7":1.0,"x8":-0.6,"x9":0.8,"x10":0.9,"x11":1.6,"x12":1.3},
{"iter":21100,"x1":-0.9,"x2":-5.3,"x3":-2.2,"x4":-1.7,"x5":0.5,"x6":-0.5,"x7":-1.2,"x8":-3.1,"x9":-2.1,"x10":-0.15,"x11":-1.1,"x12":-1.9},
{"iter":21200,"x1":1.3,"x2":-2.9,"x3":1.4,"x4":1.8,"x5":5.8,"x6":2.2,"x7":1.5,"x8":-0.8,"x9":0.5,"x10":1.05,"x11":2.0,"x12":1.5},
{"iter":21300,"x1":-1.4,"x2":-5.4,"x3":-2.6,"x4":-1.1,"x5":0.0,"x6":-0.8,"x7":-1.5,"x8":-3.6,"x9":-1.4,"x10":-0.4,"x11":-1.4,"x12":-1.2},
{"iter":21400,"x1":1.7,"x2":-2.6,"x3":0.9,"x4":1.2,"x5":5.7,"x6":1.7,"x7":1.1,"x8":-0.5,"x9":1.2,"x10":0.7,"x11":2.1,"x12":1.1},
{"iter":21500,"x1":-1.1,"x2":-5.5,"x3":-1.8,"x4":-1.9,"x5":1.1,"x6":-0.3,"x7":-1.1,"x8":-3.2,"x9":-1.9,"x10":-0.25,"x11":-2.25,"x12":-1.6},
{"iter":21600,"x1":1.4,"x2":-2.9,"x3":1.2,"x4":1.6,"x5":5.5,"x6":2.1,"x7":1.3,"x8":-1.2,"x9":0.9,"x10":1.0,"x11":1.9,"x12":1.6},
{"iter":21700,"x1":-1.3,"x2":-6.1,"x3":-2.4,"x4":-1.3,"x5":0.4,"x6":-0.6,"x7":-1.6,"x8":-3.8,"x9":-1.5,"x10":-0.1,"x11":-1.1,"x12":-1.0},
{"iter":21800,"x1":1.9,"x2":-2.7,"x3":0.7,"x4":2.0,"x5":6.0,"x6":1.5,"x7":0.9,"x8":-0.7,"x9":0.7,"x10":0.8,"x11":2.4,"x12":1.4},
{"iter":21900,"x1":-1.5,"x2":-5.0,"x3":-2.1,"x4":-1.6,"x5":-0.9,"x6":-0.2,"x7":-1.3,"x8":-3.4,"x9":-2.3,"x10":-0.35,"x11":-1.2,"x12":-1.7},
{"iter":22000,"x1":1.2,"x2":-3.0,"x3":1.1,"x4":1.4,"x5":5.2,"x6":2.3,"x7":1.95,"x8":-0.4,"x9":1.3,"x10":1.15,"x11":1.7,"x12":1.0},
{"iter":22100,"x1":-1.0,"x2":-5.6,"x3":-2.7,"x4":-1.6,"x5":0.7,"x6":-0.4,"x7":-1.8,"x8":-3.7,"x9":-1.8,"x10":-0.2,"x11":-1.6,"x12":-1.3},
{"iter":22200,"x1":1.6,"x2":-2.8,"x3":0.8,"x4":1.7,"x5":7.5,"x6":1.8,"x7":1.4,"x8":-0.9,"x9":0.4,"x10":0.95,"x11":2.0,"x12":1.8},
{"iter":22300,"x1":-1.2,"x2":-5.2,"x3":-2.3,"x4":-1.2,"x5":-0.2,"x6":-0.7,"x7":-1.0,"x8":-3.0,"x9":-1.6,"x10":-0.05,"x11":-1.0,"x12":-1.5},
{"iter":22400,"x1":1.4,"x2":-2.6,"x3":1.3,"x4":1.3,"x5":5.9,"x6":2.0,"x7":1.0,"x8":-0.6,"x9":1.0,"x10":0.85,"x11":1.5,"x12":1.2},
{"iter":22500,"x1":-1.1,"x2":-6.9,"x3":-1.9,"x4":-2.1,"x5":0.3,"x6":-0.1,"x7":-1.5,"x8":-3.9,"x9":-2.0,"x10":-0.3,"x11":-1.3,"x12":-1.1},
{"iter":22600,"x1":1.8,"x2":-1.95,"x3":0.6,"x4":1.9,"x5":4.7,"x6":1.6,"x7":1.6,"x8":-1.0,"x9":0.6,"x10":1.1,"x11":2.3,"x12":1.5},
{"iter":22700,"x1":-1.1,"x2":-5.4,"x3":-2.5,"x4":-1.4,"x5":1.0,"x6":-0.5,"x7":-1.2,"x8":-3.3,"x9":-1.4,"x10":-0.15,"x11":-0.8,"x12":-1.8},
{"iter":22800,"x1":1.3,"x2":-2.7,"x3":1.0,"x4":1.5,"x5":6.3,"x6":2.2,"x7":1.3,"x8":-0.3,"x9":1.1,"x10":0.75,"x11":3.35,"x12":1.1},
{"iter":22900,"x1":-1.4,"x2":-6.0,"x3":-2.0,"x4":-1.9,"x5":-0.5,"x6":-0.6,"x7":-1.7,"x8":-3.6,"x9":-1.9,"x10":-0.4,"x11":-1.5,"x12":-1.4},
{"iter":23000,"x1":1.5,"x2":-3.2,"x3":0.9,"x4":1.8,"x5":8.3,"x6":1.7,"x7":0.8,"x8":-0.8,"x9":2.2,"x10":1.0,"x11":2.2,"x12":1.3},
{"iter":23100,"x1":-1.0,"x2":-5.1,"x3":-2.8,"x4":-1.0,"x5":-1.9,"x6":-0.3,"x7":-1.4,"x8":-3.1,"x9":-2.2,"x10":0.0,"x11":-1.1,"x12":-1.0},
{"iter":23200,"x1":1.7,"x2":-2.5,"x3":1.2,"x4":1.2,"x5":6.0,"x6":2.1,"x7":1.1,"x8":-0.5,"x9":0.5,"x10":0.8,"x11":1.6,"x12":1.7},
{"iter":23300,"x1":-1.6,"x2":-5.7,"x3":-2.4,"x4":-1.7,"x5":0.6,"x6":-0.8,"x7":-1.1,"x8":-3.8,"x9":-1.5,"x10":-0.25,"x11":-1.4,"x12":-1.6},
{"iter":23400,"x1":1.2,"x2":-2.8,"x3":0.5,"x4":2.2,"x5":5.0,"x6":1.9,"x7":1.5,"x8":-1.1,"x9":1.2,"x10":1.15,"x11":2.5,"x12":0.9},
{"iter":23500,"x1":-1.85,"x2":-5.2,"x3":-2.2,"x4":-1.3,"x5":-0.8,"x6":-0.5,"x7":-1.8,"x8":-3.5,"x9":-2.75,"x10":-0.1,"x11":-0.9,"x12":-1.2},
{"iter":23600,"x1":1.6,"x2":-3.0,"x3":1.3,"x4":1.6,"x5":6.8,"x6":1.5,"x7":1.0,"x8":-0.6,"x9":0.7,"x10":0.9,"x11":1.9,"x12":1.6},
{"iter":23700,"x1":-0.8,"x2":-6.2,"x3":-2.6,"x4":-1.8,"x5":0.1,"x6":-0.2,"x7":-1.3,"x8":-3.2,"x9":-2.1,"x10":-0.35,"x11":-1.2,"x12":-1.7},
{"iter":23800,"x1":2.7,"x2":-2.6,"x3":0.8,"x4":1.4,"x5":5.6,"x6":2.3,"x7":1.4,"x8":-0.9,"x9":1.0,"x10":1.05,"x11":2.1,"x12":1.2},
{"iter":23900,"x1":-1.3,"x2":-5.3,"x3":-1.8,"x4":-1.5,"x5":0.8,"x6":-0.6,"x7":-1.6,"x8":-3.9,"x9":-1.4,"x10":-0.2,"x11":-1.6,"x12":-1.1},
{"iter":24000,"x1":1.8,"x2":-2.9,"x3":1.1,"x4":2.0,"x5":4.9,"x6":1.8,"x7":1.2,"x8":-0.4,"x9":0.4,"x10":0.7,"x11":1.7,"x12":1.4},
{"iter":24100,"x1":-1.5,"x2":-5.9,"x3":-2.5,"x4":-1.1,"x5":-0.4,"x6":-0.3,"x7":-1.0,"x8":-3.3,"x9":-1.8,"x10":-0.3,"x11":-1.0,"x12":-1.4},
{"iter":24200,"x1":1.3,"x2":-2.7,"x3":0.7,"x4":1.7,"x5":6.1,"x6":2.0,"x7":0.9,"x8":-0.7,"x9":1.3,"x10":1.0,"x11":2.4,"x12":1.0},
{"iter":24300,"x1":-1.1,"x2":-5.0,"x3":-3.5,"x4":-1.9,"x5":0.5,"x6":-0.4,"x7":-1.7,"x8":-3.6,"x9":-2.75,"x10":-0.05,"x11":-1.3,"x12":-1.3},
{"iter":24400,"x1":1.6,"x2":-3.3,"x3":1.4,"x4":1.3,"x5":5.3,"x6":1.6,"x7":1.6,"x8":-1.0,"x9":0.9,"x10":0.85,"x11":1.5,"x12":1.8},
{"iter":24500,"x1":-1.4,"x2":-5.5,"x3":-2.3,"x4":-1.6,"x5":-0.1,"x6":-0.4,"x7":-1.2,"x8":-3.0,"x9":-2.3,"x10":-0.15,"x11":-0.8,"x12":-1.5},
{"iter":24600,"x1":1.2,"x2":-2.6,"x3":1.0,"x4":1.9,"x5":6.5,"x6":2.2,"x7":1.3,"x8":-0.5,"x9":2.2,"x10":1.1,"x11":2.0,"x12":1.3},
{"iter":24700,"x1":-1.0,"x2":-6.1,"x3":-1.9,"x4":-1.2,"x5":1.2,"x6":-0.7,"x7":-1.5,"x8":-3.7,"x9":-1.5,"x10":-0.4,"x11":-1.5,"x12":-1.0},
{"iter":24800,"x1":1.5,"x2":-2.8,"x3":0.9,"x4":1.5,"x5":5.8,"x6":1.9,"x7":1.0,"x8":-0.8,"x9":1.1,"x10":0.75,"x11":1.8,"x12":1.5},
{"iter":24900,"x1":-1.2,"x2":-5.1,"x3":-2.7,"x4":-2.0,"x5":0.4,"x6":-0.1,"x7":-1.1,"x8":-3.4,"x9":-2.0,"x10":-0.25,"x11":-1.1,"x12":-1.9},
{"iter":25000,"x1":1.9,"x2":-3.1,"x3":1.2,"x4":1.8,"x5":4.7,"x6":1.5,"x7":1.4,"x8":-0.7,"x9":0.5,"x10":0.9,"x11":2.3,"x12":1.1},
{"iter":25100,"x1":-1.8,"x2":-5.8,"x3":-2.1,"x4":-1.3,"x5":-0.6,"x6":-0.5,"x7":-1.8,"x8":-3.1,"x9":-1.7,"x10":0.0,"x11":-1.4,"x12":-1.4},
{"iter":25200,"x1":1.1,"x2":-2.5,"x3":0.6,"x4":2.85,"x5":6.2,"x6":2.1,"x7":0.8,"x8":-0.7,"x9":0.7,"x10":1.15,"x11":1.6,"x12":1.2},
{"iter":25300,"x1":-1.3,"x2":-5.4,"x3":-2.4,"x4":-1.7,"x5":0.9,"x6":-0.3,"x7":-1.3,"x8":-3.9,"x9":-2.1,"x10":-0.3,"x11":-2.25,"x12":-1.2},
{"iter":25400,"x1":1.4,"x2":-2.9,"x3":1.3,"x4":1.6,"x5":5.1,"x6":1.7,"x7":1.2,"x8":-1.1,"x9":1.2,"x10":1.5,"x11":2.2,"x12":1.6},
{"iter":25500,"x1":-0.9,"x2":-7.25,"x3":-1.8,"x4":-1.1,"x5":0.0,"x6":-0.8,"x7":-1.6,"x8":-3.5,"x9":-1.4,"x10":-0.1,"x11":-1.6,"x12":-1.6},
{"iter":25600,"x1":1.7,"x2":-2.7,"x3":0.8,"x4":2.1,"x5":7.8,"x6":2.65,"x7":1.2,"x8":-0.4,"x9":0.8,"x10":1.0,"x11":1.4,"x12":1.4},
{"iter":25700,"x1":-1.5,"x2":-5.2,"x3":-2.6,"x4":-1.9,"x5":0.6,"x6":-0.2,"x7":-1.0,"x8":-3.2,"x9":-1.6,"x10":-0.35,"x11":-1.0,"x12":-1.1},
{"iter":25800,"x1":1.3,"x2":-3.2,"x3":1.1,"x4":1.3,"x5":5.9,"x6":1.6,"x7":1.5,"x8":-0.9,"x9":0.4,"x10":0.7,"x11":1.9,"x12":1.0},
{"iter":25900,"x1":-1.1,"x2":-5.6,"x3":-2.0,"x4":-1.4,"x5":-0.3,"x6":-0.6,"x7":-1.7,"x8":-3.8,"x9":-2.2,"x10":-0.2,"x11":-1.2,"x12":-1.7},
{"iter":26000,"x1":1.6,"x2":-2.6,"x3":1.0,"x4":1.9,"x5":4.8,"x6":1.8,"x7":1.1,"x8":-0.6,"x9":1.0,"x10":1.05,"x11":2.0,"x12":1.7},
{"iter":26100,"x1":-1.2,"x2":-5.0,"x3":-2.2,"x4":-1.8,"x5":0.2,"x6":-0.4,"x7":-1.3,"x8":-3.0,"x9":-1.9,"x10":-0.05,"x11":-1.2,"x12":-1.3},
{"iter":26200,"x1":1.5,"x2":-2.8,"x3":0.7,"x4":1.5,"x5":6.0,"x6":2.2,"x7":1.4,"x8":-1.0,"x9":0.6,"x10":0.85,"x11":1.7,"x12":1.2},
{"iter":26300,"x1":-1.4,"x2":-6.2,"x3":-2.5,"x4":-1.2,"x5":1.1,"x6":-0.7,"x7":-1.5,"x8":-3.7,"x9":-1.3,"x10":-0.2,"x11":-0.8,"x12":-1.5},
{"iter":26400,"x1":1.4,"x2":-3.0,"x3":1.3,"x4":1.7,"x5":5.2,"x6":1.5,"x7":0.9,"x8":-0.3,"x9":1.2,"x10":0.95,"x11":2.1,"x12":1.4},
{"iter":26500,"x1":-0.9,"x2":-5.7,"x3":-1.9,"x4":-1.5,"x5":-0.5,"x6":-0.2,"x7":-1.1,"x8":-3.3,"x9":-2.0,"x10":-0.3,"x11":-1.3,"x12":-1.0},
{"iter":26600,"x1":1.2,"x2":-2.5,"x3":1.0,"x4":2.0,"x5":6.6,"x6":2.1,"x7":1.2,"x8":-0.8,"x9":0.9,"x10":0.9,"x11":1.5,"x12":1.5},
{"iter":26700,"x1":-1.3,"x2":-5.3,"x3":-2.6,"x4":-1.0,"x5":0.3,"x6":-0.5,"x7":-1.8,"x8":-4.4,"x9":-1.8,"x10":-0.15,"x11":-1.1,"x12":-1.8},
{"iter":26800,"x1":1.8,"x2":-2.7,"x3":0.8,"x4":1.7,"x5":5.7,"x6":1.9,"x7":1.5,"x8":-0.5,"x9":0.5,"x10":0.9,"x11":2.4,"x12":1.1},
{"iter":26900,"x1":-1.0,"x2":-6.0,"x3":-2.1,"x4":-1.4,"x5":0.7,"x6":-0.3,"x7":-1.2,"x8":-3.6,"x9":-1.5,"x10":-0.25,"x11":-1.5,"x12":-1.2},
{"iter":27000,"x1":1.3,"x2":-3.1,"x3":1.4,"x4":1.4,"x5":4.6,"x6":1.6,"x7":1.0,"x8":-1.2,"x9":1.1,"x10":0.75,"x11":1.8,"x12":1.3},
{"iter":27100,"x1":-1.6,"x2":-5.1,"x3":-2.4,"x4":-1.3,"x5":-0.7,"x6":-0.8,"x7":-1.7,"x8":-3.1,"x9":-2.2,"x10":-0.1,"x11":-0.9,"x12":-1.6},
{"iter":27200,"x1":1.6,"x2":-2.8,"x3":0.6,"x4":1.8,"x5":6.1,"x6":2.3,"x7":1.3,"x8":-0.7,"x9":0.7,"x10":1.1,"x11":2.2,"x12":1.8},
{"iter":27300,"x1":-1.2,"x2":-5.9,"x3":-1.7,"x4":-2.0,"x5":0.0,"x6":-0.1,"x7":-1.4,"x8":-3.9,"x9":-1.6,"x10":-0.35,"x11":-1.2,"x12":-1.1},
{"iter":27400,"x1":1.1,"x2":-3.4,"x3":1.1,"x4":1.2,"x5":5.0,"x6":1.7,"x7":0.8,"x8":-0.9,"x9":0.9,"x10":0.9,"x11":1.6,"x12":1.3},
{"iter":27500,"x1":-1.4,"x2":-5.4,"x3":-2.8,"x4":-1.6,"x5":0.8,"x6":-0.6,"x7":-1.0,"x8":-3.5,"x9":-1.9,"x10":-0.2,"x11":-1.6,"x12":-1.4},
{"iter":27600,"x1":1.9,"x2":-2.6,"x3":0.9,"x4":1.9,"x5":6.3,"x6":2.0,"x7":1.6,"x8":-0.4,"x9":0.8,"x10":1.0,"x11":2.5,"x12":0.9},
{"iter":27700,"x1":-0.9,"x2":-5.6,"x3":-2.0,"x4":-1.1,"x5":-0.2,"x6":-0.4,"x7":-1.6,"x8":-3.0,"x9":-1.4,"x10":0.0,"x11":-1.0,"x12":-1.3},
{"iter":27800,"x1":1.4,"x2":-2.9,"x3":1.2,"x4":1.6,"x5":5.5,"x6":1.5,"x7":1.1,"x8":-1.0,"x9":0.4,"x10":0.8,"x11":2.0,"x12":1.6},
{"iter":27900,"x1":-1.3,"x2":-5.0,"x3":-2.5,"x4":-1.8,"x5":0.5,"x6":-0.7,"x7":-1.2,"x8":-3.8,"x9":-2.1,"x10":-0.3,"x11":-1.4,"x12":-1.9},
{"iter":28000,"x1":1.7,"x2":-3.2,"x3":0.5,"x4":1.3,"x5":5.5,"x6":2.2,"x7":1.4,"x8":-0.6,"x9":1.0,"x10":1.15,"x11":1.9,"x12":1.2},
{"iter":28100,"x1":-1.1,"x2":-6.3,"x3":-2.3,"x4":-1.2,"x5":-0.4,"x6":-0.2,"x7":-1.8,"x8":-3.4,"x9":-1.8,"x10":-0.1,"x11":-0.7,"x12":-1.0},
{"iter":28200,"x1":1.2,"x2":-2.5,"x3":1.3,"x4":2.1,"x5":6.0,"x6":1.9,"x7":0.9,"x8":-0.8,"x9":0.6,"x10":0.95,"x11":2.3,"x12":1.4},
{"iter":28300,"x1":-1.5,"x2":-5.8,"x3":-1.8,"x4":-1.4,"x5":1.0,"x6":-0.5,"x7":-1.5,"x8":-3.4,"x9":-1.5,"x10":-0.4,"x11":-1.5,"x12":-1.3},
{"iter":28400,"x1":1.5,"x2":-3.0,"x3":1.0,"x4":1.7,"x5":4.9,"x6":1.6,"x7":1.2,"x8":-1.1,"x9":1.3,"x10":0.75,"x11":1.7,"x12":1.0},
{"iter":28500,"x1":-1.2,"x2":-5.2,"x3":-2.7,"x4":-1.5,"x5":0.2,"x6":-0.3,"x7":-1.1,"x8":-3.2,"x9":-2.3,"x10":-0.15,"x11":-1.1,"x12":-1.7},
{"iter":28600,"x1":1.5,"x2":-2.8,"x3":0.7,"x4":1.1,"x5":6.7,"x6":2.3,"x7":1.5,"x8":-0.5,"x9":0.9,"x10":1.1,"x11":2.5,"x12":1.7},
{"iter":28700,"x1":-0.8,"x2":-5.5,"x3":-2.0,"x4":-1.9,"x5":0.3,"x6":-0.8,"x7":-1.7,"x8":-3.6,"x9":-1.6,"x10":-0.25,"x11":-1.3,"x12":-1.1},
{"iter":28800,"x1":1.8,"x2":-3.3,"x3":1.4,"x4":1.5,"x5":5.3,"x6":1.7,"x7":1.0,"x8":-0.9,"x9":0.5,"x10":0.85,"x11":1.9,"x12":1.3},
{"iter":28900,"x1":-1.4,"x2":-6.1,"x3":-2.4,"x4":-1.0,"x5":0.6,"x6":-0.1,"x7":-1.3,"x8":-2.9,"x9":-2.0,"x10":-0.05,"x11":-0.9,"x12":-1.5},
{"iter":29000,"x1":1.3,"x2":-2.7,"x3":0.8,"x4":1.8,"x5":5.9,"x6":2.1,"x7":1.3,"x8":-0.7,"x9":1.1,"x10":1.05,"x11":2.6,"x12":0.9},
{"iter":29100,"x1":-1.0,"x2":-5.5,"x3":-1.9,"x4":-1.7,"x5":-0.6,"x6":-0.4,"x7":-1.6,"x8":-3.7,"x9":-1.4,"x10":-0.35,"x11":-1.6,"x12":-1.2},
{"iter":29200,"x1":1.7,"x2":-3.1,"x3":1.1,"x4":1.2,"x5":4.8,"x6":1.5,"x7":0.8,"x8":-1.2,"x9":0.7,"x10":0.7,"x11":1.5,"x12":1.6},
{"iter":29300,"x1":-1.2,"x2":-4.9,"x3":-2.6,"x4":-1.3,"x5":0.1,"x6":-0.7,"x7":-1.0,"x8":-3.3,"x9":-1.7,"x10":-0.1,"x11":-1.0,"x12":-1.8},
{"iter":29400,"x1":2.3,"x2":-2.6,"x3":1.75,"x4":2.0,"x5":6.2,"x6":2.2,"x7":1.5,"x8":-0.6,"x9":1.2,"x10":1.0,"x11":2.2,"x12":1.1},
{"iter":29500,"x1":-1.3,"x2":-5.9,"x3":-2.2,"x4":-2.0,"x5":0.9,"x6":-0.2,"x7":-1.8,"x8":-3.9,"x9":-2.2,"x10":-0.3,"x11":-1.5,"x12":-1.0},
{"iter":29600,"x1":1.4,"x2":-2.4,"x3":1.3,"x4":1.4,"x5":5.1,"x6":1.8,"x7":1.1,"x8":-1.0,"x9":0.4,"x10":0.8,"x11":1.6,"x12":1.5},
{"iter":29700,"x1":-0.9,"x2":-5.1,"x3":-2.3,"x4":-2.6,"x5":-0.3,"x6":-0.6,"x7":-1.2,"x8":-3.1,"x9":-1.5,"x10":0.0,"x11":-0.8,"x12":-1.3},
{"iter":29800,"x1":1.6,"x2":-2.3,"x3":0.9,"x4":1.9,"x5":6.5,"x6":2.0,"x7":1.4,"x8":-0.4,"x9":1.0,"x10":1.1,"x11":2.4,"x12":0.9},
{"iter":29900,"x1":-1.1,"x2":-5.6,"x3":-2.2,"x4":-1.4,"x5":0.4,"x6":-0.3,"x7":-1.5,"x8":-3.5,"x9":-1.9,"x10":-0.2,"x11":-1.2,"x12":-1.6},
{"iter":30000,"x1":1.2,"x2":-3.0,"x3":1.2,"x4":1.6,"x5":5.8,"x6":1.6,"x7":0.9,"x8":-0.8,"x9":0.6,"x10":0.9,"x11":1.8,"x12":1.2}
  ]},
  "bounds": "full",
  "spacing": 244,
  "resolve": {"scale": {"x": "independent", "y": "independent"}, "axis": {"x": "independent", "y": "independent"}},
  "hconcat": [
    {
      "bounds": "flush", "spacing": 175.5,
      "resolve": {"scale": {"x": "independent", "y": "independent"}, "axis": {"x": "independent", "y": "independent"}},
      "vconcat": [
        {
          "title": {"text": "Trace of x1", "offset": 30}, "width": 331, "height": 45,
          "mark": {"type": "line", "color": "black", "strokeWidth": 2.1, "strokeJoin": "round", "clip": true},
          "encoding": {
            "x": {"field": "iter", "type": "quantitative", "scale": {"domain": [3934, 31066], "nice": false, "zero": false}, "axis": {"title": "Iterations", "values": [5000, 10000, 15000, 20000, 25000, 30000], "format": "d"}},
            "y": {"field": "x1", "type": "quantitative", "scale": {"domain": [-2.07, 2.78], "nice": false, "zero": false}, "axis": {"title": null, "values": [-2, -1, 0, 1, 2], "labelExpr": "datum.value == -2 ? '-2' : datum.value == 1 ? '1' : ''"}}
          }
        },
        {
          "bounds": "flush", "spacing": 180,
          "resolve": {"scale": {"x": "independent", "y": "independent"}, "axis": {"x": "independent", "y": "independent"}},
          "vconcat": [
            {
              "title": {"text": "Trace of x2", "offset": 19.7}, "width": 331, "height": 45,
              "mark": {"type": "line", "color": "black", "strokeWidth": 2.1, "strokeJoin": "round", "clip": true},
              "encoding": {
                "x": {"field": "iter", "type": "quantitative", "scale": {"domain": [3934, 31066], "nice": false, "zero": false}, "axis": {"title": "Iterations", "values": [5000, 10000, 15000, 20000, 25000, 30000], "format": "d"}},
                "y": {"field": "x2", "type": "quantitative", "scale": {"domain": [-7.28, -1.92], "nice": false, "zero": false}, "axis": {"title": null, "values": [-7, -6, -5, -4, -3, -2], "labelExpr": "datum.value == -2 ? '-2' : datum.value == -7 ? '-7' : ''"}}
              }
            },
            {
              "bounds": "flush", "spacing": 159,
              "resolve": {"scale": {"x": "independent", "y": "independent"}, "axis": {"x": "independent", "y": "independent"}},
              "vconcat": [
                {
                  "title": {"text": "Trace of x3", "offset": 26.1}, "width": 331, "height": 45,
                  "mark": {"type": "line", "color": "black", "strokeWidth": 2.1, "strokeJoin": "round", "clip": true},
                  "encoding": {
                    "x": {"field": "iter", "type": "quantitative", "scale": {"domain": [3934, 31066], "nice": false, "zero": false}, "axis": {"title": "Iterations", "values": [5000, 10000, 15000, 20000, 25000, 30000], "format": "d"}},
                    "y": {"field": "x3", "type": "quantitative", "scale": {"domain": [-3.65, 2.17], "nice": false, "zero": false}, "axis": {"title": null, "values": [-3, -2, -1, 0, 1, 2], "labelExpr": "datum.value == 1 ? '1' : datum.value == -3 ? '-3' : ''"}}
                  }
                },
                {
                  "bounds": "flush", "spacing": 180,
                  "resolve": {"scale": {"x": "independent", "y": "independent"}, "axis": {"x": "independent", "y": "independent"}},
                  "vconcat": [
                    {
                      "title": {"text": "Trace of x4", "offset": 25.1}, "width": 331, "height": 45,
                      "mark": {"type": "line", "color": "black", "strokeWidth": 2.1, "strokeJoin": "round", "clip": true},
                      "encoding": {
                        "x": {"field": "iter", "type": "quantitative", "scale": {"domain": [3934, 31066], "nice": false, "zero": false}, "axis": {"title": "Iterations", "values": [5000, 10000, 15000, 20000, 25000, 30000], "format": "d"}},
                        "y": {"field": "x4", "type": "quantitative", "scale": {"domain": [-2.7, 2.92], "nice": false, "zero": false}, "axis": {"title": null, "values": [-2, -1, 0, 1, 2], "labelExpr": "datum.value == 2 ? '2' : datum.value == -2 ? '-2' : ''"}}
                      }
                    },
                    {
                      "bounds": "flush", "spacing": 156.6,
                      "resolve": {"scale": {"x": "independent", "y": "independent"}, "axis": {"x": "independent", "y": "independent"}},
                      "vconcat": [
                        {
                          "title": {"text": "Trace of x5", "offset": 25.1}, "width": 331, "height": 45,
                          "mark": {"type": "line", "color": "black", "strokeWidth": 2.1, "strokeJoin": "round", "clip": true},
                          "encoding": {
                            "x": {"field": "iter", "type": "quantitative", "scale": {"domain": [3934, 31066], "nice": false, "zero": false}, "axis": {"title": "Iterations", "values": [5000, 10000, 15000, 20000, 25000, 30000], "format": "d"}},
                            "y": {"field": "x5", "type": "quantitative", "scale": {"domain": [-2.1, 8.4], "nice": false, "zero": false}, "axis": {"title": null, "values": [0, 2, 4, 6, 8], "labelExpr": "datum.value == 0 ? '0' : datum.value == 6 ? '6' : ''"}}
                          }
                        },
                        {
                          "title": {"text": "Trace of x6", "offset": 18.3}, "width": 331, "height": 45,
                          "mark": {"type": "line", "color": "black", "strokeWidth": 2.1, "strokeJoin": "round", "clip": true},
                          "encoding": {
                            "x": {"field": "iter", "type": "quantitative", "scale": {"domain": [3934, 31066], "nice": false, "zero": false}, "axis": {"title": "Iterations", "values": [5000, 10000, 15000, 20000, 25000, 30000], "format": "d"}},
                            "y": {"field": "x6", "type": "quantitative", "scale": {"domain": [-1.14, 2.73], "nice": false, "zero": false}, "axis": {"title": null, "values": [-1, -0.5, 0, 0.5, 1, 1.5, 2, 2.5], "labelExpr": "datum.value == 2.5 ? '2.5' : datum.value == -1 ? '-1.0' : ''"}}
                          }
                        }
                      ]
                    }
                  ]
                }
              ]
            }
          ]
        }
      ]
    },
    {
      "bounds": "flush", "spacing": 176.5,
      "resolve": {"scale": {"x": "independent", "y": "independent"}, "axis": {"x": "independent", "y": "independent"}},
      "vconcat": [
        {
          "title": {"text": "Trace of x7", "offset": 24}, "width": 331, "height": 43,
          "mark": {"type": "line", "color": "black", "strokeWidth": 2.1, "strokeJoin": "round", "clip": true},
          "encoding": {
            "x": {"field": "iter", "type": "quantitative", "scale": {"domain": [3934, 31066], "nice": false, "zero": false}, "axis": {"title": "Iterations", "values": [5000, 10000, 15000, 20000, 25000, 30000], "format": "d"}},
            "y": {"field": "x7", "type": "quantitative", "scale": {"domain": [-2.03, 2.03], "nice": false, "zero": false}, "axis": {"title": null, "values": [-2, -1, 0, 1, 2], "labelExpr": "datum.value == 1 ? '1' : datum.value == -2 ? '-2' : ''"}}
          }
        },
        {
          "bounds": "flush", "spacing": 179.3,
          "resolve": {"scale": {"x": "independent", "y": "independent"}, "axis": {"x": "independent", "y": "independent"}},
          "vconcat": [
            {
              "title": {"text": "Trace of x8", "offset": 23.4}, "width": 331, "height": 45,
              "mark": {"type": "line", "color": "black", "strokeWidth": 2.1, "strokeJoin": "round", "clip": true},
              "encoding": {
                "x": {"field": "iter", "type": "quantitative", "scale": {"domain": [3934, 31066], "nice": false, "zero": false}, "axis": {"title": "Iterations", "values": [5000, 10000, 15000, 20000, 25000, 30000], "format": "d"}},
                "y": {"field": "x8", "type": "quantitative", "scale": {"domain": [-4.97, 0.27], "nice": false, "zero": false}, "axis": {"title": null, "values": [-4, -3, -2, -1, 0], "labelExpr": "datum.value == 0 ? '0' : datum.value == -4 ? '-4' : ''"}}
              }
            },
            {
              "bounds": "flush", "spacing": 165.7,
              "resolve": {"scale": {"x": "independent", "y": "independent"}, "axis": {"x": "independent", "y": "independent"}},
              "vconcat": [
                {
                  "title": {"text": "Trace of x9", "offset": 25.1}, "width": 331, "height": 46,
                  "mark": {"type": "line", "color": "black", "strokeWidth": 2.1, "strokeJoin": "round", "clip": true},
                  "encoding": {
                    "x": {"field": "iter", "type": "quantitative", "scale": {"domain": [3934, 31066], "nice": false, "zero": false}, "axis": {"title": "Iterations", "values": [5000, 10000, 15000, 20000, 25000, 30000], "format": "d"}},
                    "y": {"field": "x9", "type": "quantitative", "scale": {"domain": [-2.86, 2.26], "nice": false, "zero": false}, "axis": {"title": null, "values": [-2, -1, 0, 1, 2], "labelExpr": "datum.value == 1 ? '1' : datum.value == -2 ? '-2' : ''"}}
                  }
                },
                {
                  "bounds": "flush", "spacing": 181,
                  "resolve": {"scale": {"x": "independent", "y": "independent"}, "axis": {"x": "independent", "y": "independent"}},
                  "vconcat": [
                    {
                      "title": {"text": "Trace of x10", "offset": 16.3}, "width": 331, "height": 44,
                      "mark": {"type": "line", "color": "black", "strokeWidth": 2.1, "strokeJoin": "round", "clip": true},
                      "encoding": {
                        "x": {"field": "iter", "type": "quantitative", "scale": {"domain": [3934, 31066], "nice": false, "zero": false}, "axis": {"title": "Iterations", "values": [5000, 10000, 15000, 20000, 25000, 30000], "format": "d"}},
                        "y": {"field": "x10", "type": "quantitative", "scale": {"domain": [-0.61, 1.53], "nice": false, "zero": false}, "axis": {"title": null, "values": [-0.5, 0, 0.5, 1, 1.5], "labelExpr": "datum.value == 1.5 ? '1.5' : datum.value == -0.5 ? '-0.5' : ''"}}
                      }
                    },
                    {
                      "bounds": "flush", "spacing": 156,
                      "resolve": {"scale": {"x": "independent", "y": "independent"}, "axis": {"x": "independent", "y": "independent"}},
                      "vconcat": [
                        {
                          "title": {"text": "Trace of x11", "offset": 26.5}, "width": 331, "height": 44,
                          "mark": {"type": "line", "color": "black", "strokeWidth": 2.1, "strokeJoin": "round", "clip": true},
                          "encoding": {
                            "x": {"field": "iter", "type": "quantitative", "scale": {"domain": [3934, 31066], "nice": false, "zero": false}, "axis": {"title": "Iterations", "values": [5000, 10000, 15000, 20000, 25000, 30000], "format": "d"}},
                            "y": {"field": "x11", "type": "quantitative", "scale": {"domain": [-2.3, 3.43], "nice": false, "zero": false}, "axis": {"title": null, "values": [-2, -1, 0, 1, 2, 3], "labelExpr": "datum.value == 2 ? '2' : datum.value == -2 ? '-2' : ''"}}
                          }
                        },
                        {
                          "title": {"text": "Trace of x12", "offset": 25.8}, "width": 331, "height": 46,
                          "mark": {"type": "line", "color": "black", "strokeWidth": 2.1, "strokeJoin": "round", "clip": true},
                          "encoding": {
                            "x": {"field": "iter", "type": "quantitative", "scale": {"domain": [3934, 31066], "nice": false, "zero": false}, "axis": {"title": "Iterations", "values": [5000, 10000, 15000, 20000, 25000, 30000], "format": "d"}},
                            "y": {"field": "x12", "type": "quantitative", "scale": {"domain": [-3.0, 2.8], "nice": false, "zero": false}, "axis": {"title": null, "values": [-2, -1, 0, 1, 2], "labelExpr": "datum.value == 2 ? '2' : datum.value == -2 ? '-2' : ''"}}
                          }
                        }
                      ]
                    }
                  ]
                }
              ]
            }
          ]
        }
      ]
    }
  ],
  "config": {
    "font": "Liberation Sans",
    "view": {"stroke": "black", "strokeWidth": 1.5},
    "axis": {
      "domain": false, "grid": false,
      "ticks": true, "tickColor": "black", "tickSize": 10, "tickWidth": 1.3,
      "labelColor": "black", "labelFont": "Liberation Sans", "labelFontSize": 16.5, "labelOverlap": false,
      "titleColor": "black", "titleFont": "Liberation Sans", "titleFontSize": 16.5, "titleFontWeight": "normal"
    },
    "axisX": {"labelBaseline": "top", "labelPadding": 14, "titlePadding": 23},
    "axisY": {"labelAngle": 270, "labelAlign": "center", "labelBaseline": "alphabetic", "labelPadding": 9},
    "title": {"font": "Liberation Sans", "fontSize": 21, "fontWeight": "bold", "color": "black", "anchor": "middle", "frame": "group", "baseline": "alphabetic"}
  }
}
